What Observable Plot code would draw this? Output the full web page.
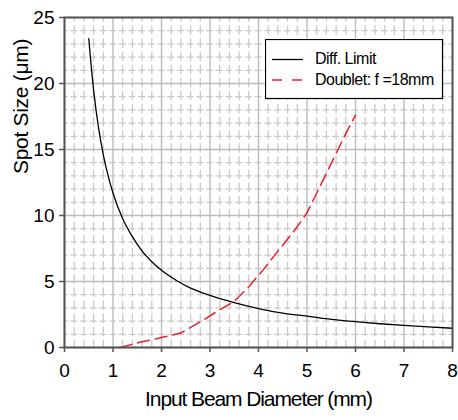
<!DOCTYPE html>
<html>
<head>
<meta charset="utf-8">
<script src="https://cdn.jsdelivr.net/npm/d3@7"></script>
<script src="https://cdn.jsdelivr.net/npm/@observablehq/plot@0.6"></script>
<style>
  html, body { margin: 0; padding: 0; background: #fff; }
  #wrap { position: relative; width: 458px; height: 420px; font-family: "Liberation Sans", Arial, sans-serif; }
  #legend { position: absolute; left: 265px; top: 39px; }
</style>
</head>
<body>
<div id="wrap"></div>
<script>
// ---- data ----
const xTicks = [0, 1, 2, 3, 4, 5, 6, 7, 8];
const yTicks = [0, 5, 10, 15, 20, 25];

const diffD = [0.5, 0.6, 0.7, 0.8, 0.9, 1.0, 1.2, 1.4, 1.6, 1.8, 2.0, 2.3, 2.6, 3.0, 3.5, 4.0, 4.5, 5.0, 5.5, 6.0, 6.5, 7.0, 7.5, 8.0];
const diffS = [23.4, 19.5, 16.7, 14.6, 13.0, 11.7, 9.75, 8.4, 7.3, 6.5, 5.85, 5.1, 4.5, 3.95, 3.4, 2.95, 2.6, 2.37, 2.13, 1.96, 1.8, 1.67, 1.56, 1.46];

const dblD = [1.15, 1.5, 2.0, 2.4, 2.8, 3.2, 3.5, 3.8, 4.1, 4.4, 4.75, 5.0, 5.4, 5.8, 6.0];
const dblS = [0.0, 0.35, 0.75, 1.1, 1.95, 2.85, 3.5, 4.6, 5.9, 7.3, 8.9, 10.2, 13.2, 16.2, 17.6];

const seriesNames = ["Diff. Limit", "Doublet: f =18mm"];
const xLabel = "Input Beam Diameter (mm)";
const yLabel = "Spot Size (\u03bcm)";

// grid positions (from axis ticks)
const xMinor = d3.range(0, 8.0001, 0.2).map(v => +v.toFixed(2)).filter(v => Math.abs(v - Math.round(v)) > 1e-6);
const yMinor = d3.range(0, 26, 1).filter(v => v % 5 !== 0);

const diff = diffD.map((d, i) => ({d, s: diffS[i]}));
const dbl = dblD.map((d, i) => ({d, s: dblS[i]}));

const chart = Plot.plot({
  width: 458,
  height: 420,
  marginTop: 17,
  marginBottom: 73,
  marginLeft: 64,
  marginRight: 6,
  style: {fontFamily: "'Liberation Sans', Arial, sans-serif", fontSize: "19px", color: "#000", background: "#fff", overflow: "visible"},
  x: {domain: [0, 8]},
  y: {domain: [0, 25]},
  marks: [
    Plot.ruleY(yMinor, {stroke: "#cacaca", strokeWidth: 1.3, strokeDasharray: "7,2.7", strokeDashoffset: 3.5}),
    Plot.ruleX(xMinor, {stroke: "#cacaca", strokeWidth: 1.3, strokeDasharray: "9.5,3.6", strokeDashoffset: 4.75}),
    Plot.ruleX(xTicks, {stroke: "#bcbcbc", strokeWidth: 1.4}),
    Plot.ruleY(yTicks, {stroke: "#bcbcbc", strokeWidth: 1.4}),
    Plot.line(diff, {x: "d", y: "s", stroke: "#000", strokeWidth: 1.3, curve: "monotone-x"}),
    Plot.line(dbl, {x: "d", y: "s", stroke: "#e8202e", strokeWidth: 1.5, strokeDasharray: "12,6", curve: "linear"}),
    Plot.frame({stroke: "#555", strokeWidth: 2}),
    Plot.axisX({ticks: xTicks, tickSize: 5, tickPadding: 11, stroke: "#555", strokeWidth: 1.5, label: null, fontSize: 19}),
    Plot.axisY({ticks: yTicks, tickSize: 5, tickPadding: 5, stroke: "#555", strokeWidth: 1.5, label: null, fontSize: 19}),
    Plot.text([xLabel], {frameAnchor: "bottom", dy: 58, fontSize: 21, text: d => d}),
    Plot.text([yLabel], {frameAnchor: "left", dx: -43, dy: -8.5, rotate: -90, fontSize: 21, text: d => d})
  ]
});

// condensed look of axis titles
chart.querySelectorAll("text").forEach(t => {
  if (t.textContent === xLabel) t.setAttribute("letter-spacing", "-1.1");
  if (t.textContent === yLabel) t.setAttribute("letter-spacing", "-0.3");
});

const wrap = document.getElementById("wrap");
wrap.appendChild(chart);

// legend overlay
const ns = "http://www.w3.org/2000/svg";
const leg = document.createElementNS(ns, "svg");
leg.setAttribute("id", "legend");
leg.setAttribute("width", 179);
leg.setAttribute("height", 61);
leg.innerHTML = `
  <rect x="0.5" y="0.5" width="177" height="59" fill="#fff" stroke="#000" stroke-width="1.2"/>
  <line x1="7" x2="38" y1="20.5" y2="20.5" stroke="#000" stroke-width="1.3"/>
  <line x1="7" x2="38" y1="41" y2="41" stroke="#e8202e" stroke-width="1.5" stroke-dasharray="10,10"/>
  <text x="50" y="25" font-family="'Liberation Sans', Arial, sans-serif" font-size="16" letter-spacing="-0.5" fill="#000">${seriesNames[0]}</text>
  <text x="50" y="46" font-family="'Liberation Sans', Arial, sans-serif" font-size="16" letter-spacing="-0.5" fill="#000">${seriesNames[1]}</text>
`;
wrap.appendChild(leg);
</script>
</body>
</html>
